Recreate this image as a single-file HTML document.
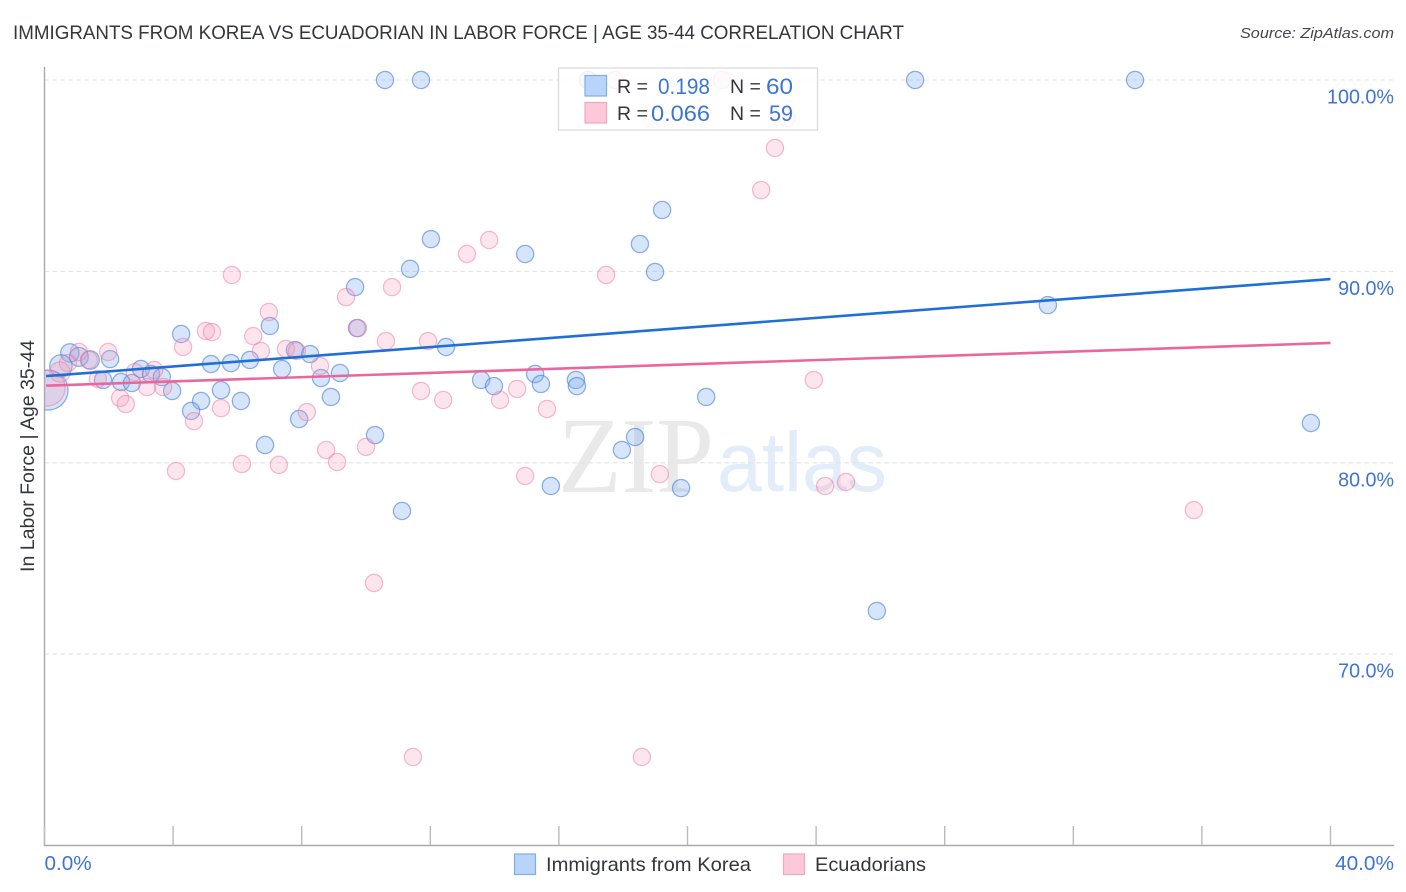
<!DOCTYPE html>
<html lang="en">
<head>
<meta charset="utf-8">
<title>Immigrants from Korea vs Ecuadorian in Labor Force | Age 35-44 Correlation Chart</title>
<style>
html,body{margin:0;padding:0;background:#fff;}
body{width:1406px;height:892px;overflow:hidden;}
svg{display:block;font-family:"Liberation Sans",sans-serif;}
</style>
</head>
<body>
<svg id="chart" width="1406" height="892" viewBox="0 0 1406 892" xmlns="http://www.w3.org/2000/svg">
  <defs>
    <clipPath id="plot-clip"><rect x="44.5" y="60" width="1350" height="785"/></clipPath>
  </defs>
  <rect x="0" y="0" width="1406" height="892" fill="#fff"/>
  <text x="13" y="39" font-size="19" fill="#33363a" textLength="891" lengthAdjust="spacingAndGlyphs">IMMIGRANTS FROM KOREA VS ECUADORIAN IN LABOR FORCE | AGE 35-44 CORRELATION CHART</text>
  <text x="1394" y="38" font-size="15" font-style="italic" fill="#44474c" text-anchor="end" textLength="154" lengthAdjust="spacingAndGlyphs">Source: ZipAtlas.com</text>
  <g>
    <text x="558" y="492" font-family="'Liberation Serif',serif" font-size="108" fill="#e9e9e9" textLength="156" lengthAdjust="spacingAndGlyphs">ZIP</text>
    <text x="717" y="491" font-size="84" fill="#e3ecf9" textLength="170" lengthAdjust="spacingAndGlyphs">atlas</text>
  </g>
  <g id="grid"></g>
  <g id="axes"></g>
  <g id="points" clip-path="url(#plot-clip)"></g>
  <g id="trends"></g>
  <g id="tick-labels"></g>
  <text transform="translate(34,456) rotate(-90)" font-size="19.5" fill="#33363a" text-anchor="middle" textLength="232" lengthAdjust="spacingAndGlyphs">In Labor Force | Age 35-44</text>

  <g>
    <rect x="558.5" y="68" width="259" height="62" fill="#fff" fill-opacity="0.82" stroke="#dcdcdc" stroke-width="1.3"/>
    <rect x="585" y="75.5" width="21.5" height="20.5" fill="#b8d4fb" stroke="#7eaee6" stroke-width="1.2"/>
    <rect x="585" y="102.5" width="21.5" height="20.5" fill="#fcc8da" stroke="#f3a7bf" stroke-width="1.2"/>
    <g font-size="19.5" fill="#33363a">
      <text x="617" y="93">R =</text>
      <text x="617" y="120">R =</text>
      <text x="730" y="93">N =</text>
      <text x="730" y="120">N =</text>
    </g>
    <g font-size="22" fill="#3a76d2">
      <text x="658" y="94" textLength="52" lengthAdjust="spacingAndGlyphs">0.198</text>
      <text x="651" y="121" textLength="59" lengthAdjust="spacingAndGlyphs">0.066</text>
      <text x="766" y="94" textLength="27" lengthAdjust="spacingAndGlyphs">60</text>
      <text x="769" y="121" textLength="24" lengthAdjust="spacingAndGlyphs">59</text>
    </g>
  </g>

  <g>
    <rect x="514.5" y="854" width="21" height="20.5" fill="#b8d4fb" stroke="#7eaee6" stroke-width="1.2"/>
    <text x="546" y="871" font-size="19.5" fill="#33363a" textLength="205" lengthAdjust="spacingAndGlyphs">Immigrants from Korea</text>
    <rect x="783.5" y="854" width="21" height="20.5" fill="#fcc8da" stroke="#f3a7bf" stroke-width="1.2"/>
    <text x="815" y="871" font-size="19.5" fill="#33363a" textLength="111" lengthAdjust="spacingAndGlyphs">Ecuadorians</text>
  </g>
</svg>
<script>
const yTickValues = [100, 90, 80, 70];
const yTickLabels = ["100.0%", "90.0%", "80.0%", "70.0%"];
const xTickValues = [0, 4, 8, 12, 16, 20, 24, 28, 32, 36, 40];
const xEndValues = [0, 40];
const xEndLabels = ["0.0%", "40.0%"];

const blueX = [10.59,11.71,16.91,27.08,33.92,19.21,12.02,18.52,14.95,11.37,18.99,9.66,31.21,7.01,9.72,4.25,12.49,7.79,8.26,
  0.79,0.51,1.07,1.42,2.04,5.18,5.80,6.39,7.39,8.60,9.19,3.00,3.31,3.65,1.82,2.38,2.72,3.97,5.49,6.11,4.87,4.56,
  6.86,7.92,8.91,10.28,11.12,13.58,13.98,15.26,15.44,16.53,16.56,18.37,17.96,15.75,19.80,20.58,25.89,39.39,0.11];
const blueY = [100,100,100,100,100,93.21,91.69,91.43,90.91,90.13,89.97,89.18,88.24,87.15,87.04,86.73,86.05,85.89,85.68,
  85.74,85.06,85.53,85.37,85.42,85.16,85.21,85.37,84.90,84.43,84.69,84.90,84.64,84.48,84.33,84.22,84.17,83.75,83.80,83.23,83.23,82.71,
  80.93,82.29,83.44,81.45,77.48,84.33,84.01,84.64,84.12,84.33,84.01,81.35,80.67,78.79,78.68,83.44,72.26,82.08,83.80];
const blueWeight = [1,1,1,1,1,1,1,1,1,1,1,1,1,1,1,1,1,1,1,
  1.15,1.7,1.2,1.15,1,1,1,1,1,1,1,1,1,1,1,1,1,1,1,1,1,1,
  1,1,1,1,1,1,1,1,1,1,1,1,1,1,1,1,1,1,5.4];

const pinkX = [17.74,21.07,23.09,22.72,22.29,13.83,13.14,5.83,17.47,10.81,9.38,6.98,5.02,5.21,6.49,4.31,9.75,10.62,11.93,6.73,7.51,7.85,
  1.07,1.98,1.38,0.73,0.48,1.66,2.81,3.41,3.19,3.69,2.35,2.53,4.65,5.49,4.09,6.14,7.29,8.76,9.10,10.00,8.16,8.57,
  11.71,12.40,14.17,14.70,15.63,14.95,19.14,24.28,24.93,23.93,35.75,10.25,11.46,18.58,0.08];
const pinkY = [100,100,98.01,96.45,94.25,91.64,90.91,89.81,89.81,89.18,88.66,87.88,86.89,86.83,86.62,86.05,87.04,86.36,86.36,85.84,85.95,85.84,
  85.79,85.79,85.37,85.21,84.74,84.38,84.74,84.85,83.96,83.96,83.39,83.07,82.18,82.86,79.57,79.94,79.89,80.67,80.04,80.83,82.65,85.06,
  83.75,83.28,83.28,83.86,82.81,79.31,79.41,78.79,79.00,84.33,77.53,73.72,64.63,64.63,83.91];
const pinkWeight = [1,1,1,1,1,1,1,1,1,1,1,1,1,1,1,1,1,1,1,1,1,1,
  1,1,1,1,1.4,1,1,1,1,1,1,1,1,1,1,1,1,1,1,1,1,1,
  1,1,1,1,1,1,1,1,1,1,1,1,1,1,4.4];

const blueTrendX = [0.05, 40];
const blueTrendY = [84.53, 89.60];
const pinkTrendX = [0.05, 40];
const pinkTrendY = [84.03, 86.26];

const NS = "http://www.w3.org/2000/svg";
function xScale(v){ return 44.5 + v * 32.15; }
function yScale(v){ return 80 + (100 - v) * 19.14; }
function rScale(w){ return 8.6 * Math.sqrt(w); }
function make(tag, attrs, parent){
  const el = document.createElementNS(NS, tag);
  for (const k in attrs) el.setAttribute(k, attrs[k]);
  parent.appendChild(el);
  return el;
}

const gridG = document.getElementById("grid");
const axesG = document.getElementById("axes");
const pointsG = document.getElementById("points");
const trendsG = document.getElementById("trends");
const labelsG = document.getElementById("tick-labels");

yTickValues.forEach(function(v, i){
  const line = make("line", {x1:44.5, x2:1393, y1:yScale(v), y2:yScale(v), stroke:"#e4e4e4", "stroke-width":1.1, "stroke-dasharray":"4.5 3.5"}, gridG);
  
  
  const t = make("text", {x:1394 - yTickLabels[i].length * 11.17 + (yTickLabels[i].length === 6 ? 0 : 0), y:yScale(v)+23.5, "font-size":20, fill:"#3f74d4", textLength: yTickLabels[i].length * 11.17, lengthAdjust:"spacingAndGlyphs"}, labelsG);
  
  
  t.textContent = yTickLabels[i];
});

const yAxis = make("line", {x1:44.5, x2:44.5, y1:67, y2:845.5, stroke:"#aaaaaa", "stroke-width":1.4}, axesG);


const xAxis = make("line", {x1:44, x2:1394, y1:845.5, y2:845.5, stroke:"#aaaaaa", "stroke-width":1.4}, axesG);


xTickValues.forEach(function(v){
  const tick = make("line", {x1:xScale(v), x2:xScale(v), y1:826, y2:845, stroke:"#bbbbbb", "stroke-width":1.4}, axesG);
  
  
});
xEndValues.forEach(function(v, i){
  const w = xEndLabels[i].length * 11.8;
  const t = make("text", {x: i === 0 ? xScale(v) : 1394 - w, y:870, "font-size":20, fill:"#3f74d4", textLength:w, lengthAdjust:"spacingAndGlyphs"}, labelsG);
  
  
  t.textContent = xEndLabels[i];
});

blueX.forEach(function(v, i){
  const c = make("circle", {cx:xScale(v), cy:yScale(blueY[i]), r:rScale(blueWeight[i]), fill:"rgba(120,170,240,0.3)", stroke:"rgba(60,120,215,0.58)", "stroke-width":1.25}, pointsG);
  
  
});
pinkX.forEach(function(v, i){
  const c = make("circle", {cx:xScale(v), cy:yScale(pinkY[i]), r:rScale(pinkWeight[i]), fill:"rgba(245,155,185,0.26)", stroke:"rgba(235,115,155,0.48)", "stroke-width":1.25}, pointsG);
  
  
});

const blueLine = make("line", {x1:xScale(blueTrendX[0]), y1:yScale(blueTrendY[0]), x2:xScale(blueTrendX[1]), y2:yScale(blueTrendY[1]), stroke:"#1f6fd6", "stroke-width":2.6}, trendsG);


const pinkLine = make("line", {x1:xScale(pinkTrendX[0]), y1:yScale(pinkTrendY[0]), x2:xScale(pinkTrendX[1]), y2:yScale(pinkTrendY[1]), stroke:"#e9679a", "stroke-width":2.6}, trendsG);


</script>
</body>
</html>
